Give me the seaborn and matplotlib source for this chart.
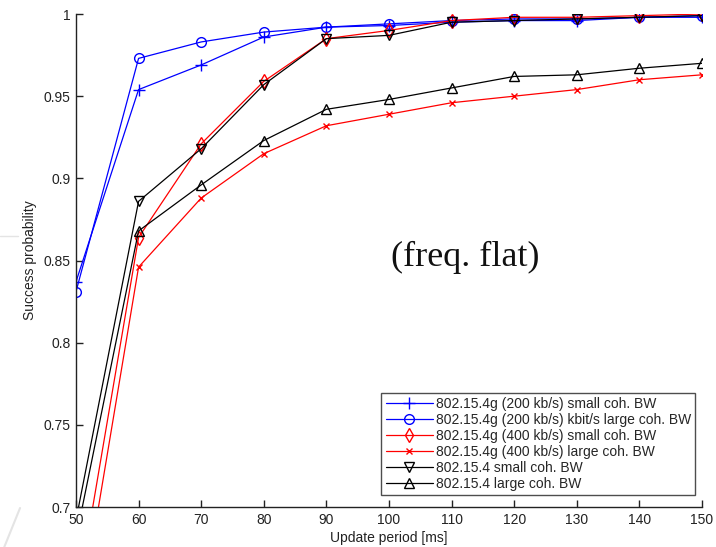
import matplotlib
matplotlib.use("Agg")
import matplotlib.pyplot as plt
from matplotlib.lines import Line2D
import seaborn as sns
import pandas as pd

# Update period [ms]
periods = [50, 60, 70, 80, 90, 100, 110, 120, 130, 140, 150]

# Success probability per configuration
g200_small = [0.837, 0.954, 0.969, 0.986, 0.992, 0.993, 0.995, 0.996, 0.996, 0.998, 0.998]
g200_large = [0.831, 0.973, 0.983, 0.989, 0.992, 0.994, 0.996, 0.997, 0.997, 0.998, 0.999]
g400_small = [0.640, 0.864, 0.921, 0.959, 0.985, 0.990, 0.996, 0.998, 0.998, 0.999, 1.000]
g400_large = [0.618, 0.846, 0.888, 0.915, 0.932, 0.939, 0.946, 0.950, 0.954, 0.960, 0.963]
std_small = [0.692, 0.886, 0.918, 0.957, 0.985, 0.987, 0.995, 0.996, 0.997, 0.998, 0.999]
std_large = [0.681, 0.868, 0.896, 0.923, 0.942, 0.948, 0.955, 0.962, 0.963, 0.967, 0.970]

labels = [
    "802.15.4g (200 kb/s) small coh. BW",
    "802.15.4g (200 kb/s) kbit/s large coh. BW",
    "802.15.4g (400 kb/s) small coh. BW",
    "802.15.4g (400 kb/s) large coh. BW",
    "802.15.4 small coh. BW",
    "802.15.4 large coh. BW",
]
series = [g200_small, g200_large, g400_small, g400_large, std_small, std_large]
colors = ["#0000ff", "#0000ff", "#ff0000", "#ff0000", "#000000", "#000000"]
markers = ["+", "o", "d", "x", "v", "^"]
msizes = [9, 7, 7, 5, 7, 7]

sns.set_theme(style="white")
plt.rcParams["font.family"] = ["Liberation Sans", "DejaVu Sans"]

fig = plt.figure(figsize=(7.16, 5.47), dpi=100)
ax = fig.add_axes([0.1061, 0.0731, 0.8743, 0.9013])

for lab, vals, c, m, ms in zip(labels, series, colors, markers, msizes):
    df = pd.DataFrame({"period": periods, "p": vals})
    sns.lineplot(data=df, x="period", y="p", ax=ax, color=c, marker=m,
                 markersize=ms, markerfacecolor="none", markeredgecolor=c,
                 markeredgewidth=1.0, linewidth=0.9, label=lab, legend=False)

ax.set_xlim(50, 150)
ax.set_ylim(0.7, 1.0)
ax.set_xticks(periods)
ax.set_yticks([0.7, 0.75, 0.8, 0.85, 0.9, 0.95, 1.0])
ax.set_yticklabels(["0.7", "0.75", "0.8", "0.85", "0.9", "0.95", "1"])
ax.tick_params(axis="both", direction="in", length=5, width=1, labelsize=10,
               colors="#222222", pad=4, left=True, bottom=True)
for side in ["top", "right"]:
    ax.spines[side].set_visible(False)
for side in ["left", "bottom"]:
    ax.spines[side].set_color("#222222")
    ax.spines[side].set_linewidth(1.0)

ax.set_xlabel("Update period [ms]", fontsize=10, labelpad=3, color="#222222")
ax.set_ylabel("Success probability", fontsize=10, color="#222222")
ax.yaxis.set_label_coords(-0.062, 0.5)

handles = [Line2D([], [], color=c, marker=m, markersize=ms, markerfacecolor="none",
                  markeredgecolor=c, linewidth=0.9)
           for c, m, ms in zip(colors, markers, msizes)]
leg = ax.legend(handles, labels, loc="lower right", bbox_to_anchor=(0.989, 0.024),
                fontsize=10, frameon=True, fancybox=False, handlelength=3.4,
                handletextpad=0.2, labelspacing=0.14, borderpad=0.3,
                borderaxespad=0)
leg.get_frame().set_edgecolor("#222222")
leg.get_frame().set_linewidth(1.0)

ax.text(112.25, 0.8516, "(freq. flat)", fontsize=26, ha="center", va="center",
        family=["Liberation Serif", "DejaVu Serif"], color="#111111")

# faint slide decorations around the chart
fig.add_artist(Line2D([0.0, 0.025], [1 - 236 / 547, 1 - 236 / 547],
                      transform=fig.transFigure, color="#e4e4e4", lw=1))
fig.add_artist(Line2D([0.028, 0.006], [1 - 508 / 547, 0.0],
                      transform=fig.transFigure, color="#e4e4e4", lw=1.5))

fig.savefig("out.png", dpi=100)
